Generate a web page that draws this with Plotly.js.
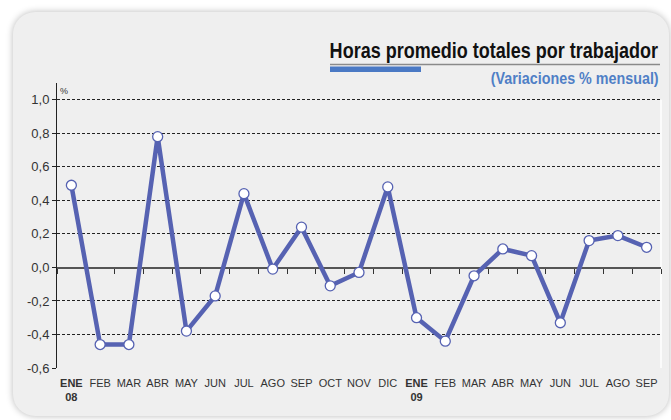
<!DOCTYPE html>
<html>
<head>
<meta charset="utf-8">
<script src="https://cdn.plot.ly/plotly-3.0.1.min.js"></script>
<style>
  html, body { margin:0; padding:0; background:#ffffff; width:671px; height:420px; overflow:hidden; }
  #card { position:absolute; left:13px; top:12px; width:656px; height:404px; border-radius:22px;
          background:#efefef; box-shadow:0 0 7px rgba(0,0,0,0.28); }
  #chart { position:absolute; left:0; top:0; width:671px; height:420px; }
</style>
</head>
<body>
<div id="card"></div>
<div id="chart"></div>
<script>
// ---- data ----
const tickLabels = ['<b>ENE</b><br><b>08</b>','FEB','MAR','ABR','MAY','JUN','JUL','AGO','SEP','OCT','NOV','DIC',
                    '<b>ENE</b><br><b>09</b>','FEB','MAR','ABR','MAY','JUN','JUL','AGO','SEP'];
const values = [0.49,-0.46,-0.46,0.78,-0.38,-0.17,0.44,-0.01,0.24,-0.11,-0.03,0.48,
                -0.30,-0.44,-0.05,0.11,0.07,-0.33,0.16,0.19,0.12];
const yTickVals = [-0.6,-0.4,-0.2,0.0,0.2,0.4,0.6,0.8,1.0];
const yTickText = ['-0,6','-0,4','-0,2','0,0','0,2','0,4','0,6','0,8','1,0'];
const titleText = 'Horas promedio totales por trabajador';
const subtitleText = '(Variaciones % mensual)';

// ---- geometry ----
const W = 671, H = 420;
const M = {l:57, r:10, t:83, b:52};
const PW = W - M.l - M.r, PH = H - M.t - M.b;
const px = x => (x - M.l) / PW;
const py = y => (H - M.b - y) / PH;
const yMin = -0.6, yMax = 1.1;

const xIdx = values.map((_, i) => i);
const boundaries = values.map((_, i) => i + 0.5).concat([-0.5]);

const sans = 'Liberation Sans, Arial, sans-serif';
const lineColor = '#5662b2';

// title boxes (left/right pixel edges in the reference)
const titleBox = {l:330, r:659};
const subBox = {l:492, r:660};

const traces = [
  {
    x: xIdx, y: values, type:'scatter', mode:'lines+markers',
    line:{color:lineColor, width:4.5},
    marker:{size:10, color:'#ffffff', line:{color:lineColor, width:1.3}},
    xaxis:'x', yaxis:'y', hoverinfo:'skip', showlegend:false
  },
  {
    x: xIdx, y: values, type:'scatter', mode:'lines',
    line:{color:'rgba(0,0,0,0)', width:0}, opacity:0,
    xaxis:'x2', yaxis:'y', hoverinfo:'skip', showlegend:false
  }
];

const layout = {
  width:W, height:H,
  margin:M,
  paper_bgcolor:'rgba(0,0,0,0)',
  plot_bgcolor:'rgba(0,0,0,0)',
  showlegend:false,
  font:{family:sans, color:'#333333'},
  xaxis:{
    range:[-0.5, 20.5], tickvals:xIdx, ticktext:tickLabels,
    showgrid:false, zeroline:false, showline:false, ticks:'',
    ticklabelstandoff:7,
    tickfont:{family:sans, size:11, color:'#333333'},
    fixedrange:true
  },
  xaxis2:{
    overlaying:'x', anchor:'free', position:(0 - yMin)/(yMax - yMin),
    range:[-0.5, 20.5], tickvals:boundaries, showticklabels:false,
    ticks:'outside', ticklen:5, tickwidth:1, tickcolor:'#333333',
    showline:true, linecolor:'#555555', linewidth:1.5,
    showgrid:false, zeroline:false, layer:'below traces', fixedrange:true
  },
  yaxis:{
    range:[yMin, yMax], tickvals:yTickVals, ticktext:yTickText,
    showline:true, linecolor:'#222222', linewidth:1,
    ticks:'outside', ticklen:4, tickcolor:'#222222',
    showgrid:true, gridcolor:'#222222', gridwidth:1, griddash:'3px,2px',
    zeroline:false, layer:'below traces',
    tickfont:{family:sans, size:13, color:'#333333'},
    fixedrange:true
  },
  shapes:[
    {type:'line', xref:'paper', yref:'y', x0:1, x1:1, y0:-0.6, y1:1.0,
     line:{color:'#ffffff', width:1.5}, layer:'below'},
    {type:'line', xref:'paper', yref:'paper', x0:px(330), x1:px(660), y0:py(64.5), y1:py(64.5),
     line:{color:'#8a8a8a', width:1.5}},
    {type:'rect', xref:'paper', yref:'paper', x0:px(330), x1:px(421), y0:py(72), y1:py(66.5),
     fillcolor:'#4a79c4', line:{width:0}}
  ],
  annotations:[
    {text:titleText, xref:'paper', yref:'paper', x:px(titleBox.r), y:py(51),
     xanchor:'right', align:'right', yanchor:'middle', showarrow:false, borderpad:0,
     font:{family:sans, size:21.5, color:'#111111', weight:'bold'}},
    {text:subtitleText, xref:'paper', yref:'paper', x:px(subBox.r), y:py(78.5),
     xanchor:'right', align:'right', yanchor:'middle', showarrow:false, borderpad:0,
     font:{family:sans, size:16, color:'#4f7fc6', weight:'bold'}},
    {text:'%', xref:'paper', yref:'y', x:0, y:1.05, xanchor:'left', yanchor:'middle',
     xshift:1, showarrow:false, font:{family:sans, size:9, color:'#333333'}}
  ]
};

Plotly.newPlot('chart', traces, layout, {displayModeBar:false, staticPlot:true}).then(gd => {
  // condense the title texts horizontally (narrow face as in the reference), keeping the right edge fixed
  const groups = gd.querySelectorAll('.annotation-text-g');
  const widths = [titleBox.r - titleBox.l, subBox.r - subBox.l];
  widths.forEach((w, i) => {
    const g = groups[i];
    if (!g) return;
    const t = g.querySelector('text');
    const bb = t.getBoundingClientRect();
    const k = w / bb.width;
    const inner = g.querySelector('g') || g;
    const right = bb.right;
    // wrap content in a scaled group anchored at the right edge (page coords == svg coords here)
    const svgRoot = gd.querySelector('svg.main-svg');
    const ctm = t.getScreenCTM().inverse();
    const pt = svgRoot.createSVGPoint(); pt.x = right; pt.y = 0;
    const lx = pt.matrixTransform(ctm).x;
    t.setAttribute('transform', 'translate(' + lx + ',0) scale(' + k + ',1) translate(' + (-lx) + ',0)');
  });
});
</script>
</body>
</html>
